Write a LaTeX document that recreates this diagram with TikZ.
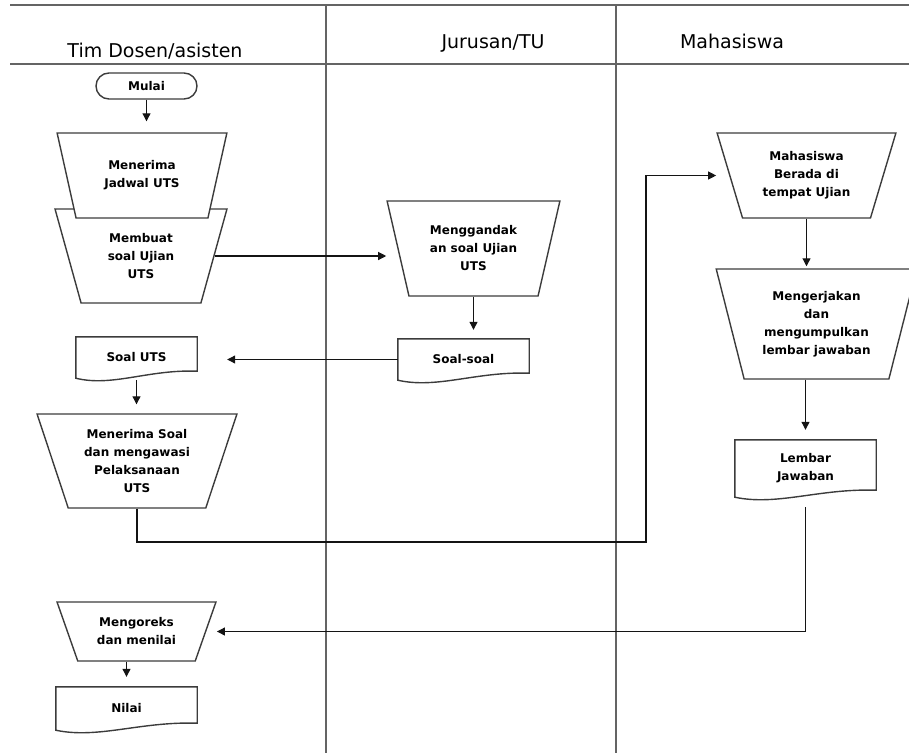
\documentclass[tikz,border=0pt]{standalone}
\usepackage{fontspec}
\setmainfont{DejaVu Sans}
\usepackage{tikz}
\usetikzlibrary{arrows.meta,calc,shapes.geometric}
\definecolor{lanegray}{RGB}{100,100,100}
\definecolor{boxgray}{RGB}{60,60,60}
\definecolor{arrowblack}{RGB}{20,20,20}
% wavy document outline round a named node
\newcommand{\docoutline}[1]{%
  \draw[boxgray, line width=1.4pt] (#1.south west) -- (#1.north west) -- (#1.north east)
    -- ($(#1.south east)+(0,-7)$)
    .. controls ($(#1.south west)!0.6!(#1.south east)+(0,-9)$)
    and ($(#1.south west)!0.3!(#1.south east)+(0,9)$) .. cycle;}

\begin{document}
\begin{tikzpicture}[x=1pt, y=-1pt,
  trap/.style={trapezium, trapezium stretches=true, trapezium left angle=#1,
    trapezium right angle=#1, draw=boxgray, line width=1.4pt, fill=white,
    align=center, font=\bfseries\fontsize{12}{18}\selectfont},
  docbox/.style={rectangle, draw=none, inner sep=0pt, align=center,
    font=\bfseries\fontsize{12}{18}\selectfont},
  title/.style={anchor=base, font=\fontsize{19}{22}\selectfont},
  arr/.style={draw=arrowblack, line width=1.1pt, -{Triangle[length=8pt,width=8pt]}},
  lane/.style={draw=lanegray, line width=1.2pt}]
\useasboundingbox (0,0) rectangle (909,753);
% Swimlanes
\draw[lane, line width=1.8pt] (10,5) -- (909,5);
\draw[lane] (10,64) -- (909,64);
\draw[lane] (326,5) -- (326,753);
\draw[lane] (616,5) -- (616,753);
\node[title] (tdosen) at (155,57) {Tim Dosen/asisten};
\node[title] (tjurusan) at (493,48) {Jurusan/TU};
\node[title] (tmhs) at (732,48) {Mahasiswa};
% Tim Dosen/asisten
\node[draw=boxgray, line width=1.4pt, rounded corners=13pt, minimum width=101pt,
      minimum height=26pt, font=\bfseries\fontsize{12}{18}\selectfont]
      (mulai) at (146.5,86) {Mulai};
\node[trap=107, minimum width=172pt, minimum height=94pt] (membuat) at (141,256)
      {Membuat\\soal Ujian\\UTS};
\node[trap=108, minimum width=170pt, minimum height=85pt] (jadwal) at (142,175.5)
      {Menerima\\Jadwal UTS};
\node[docbox, minimum width=121pt, minimum height=41pt] (soaluts) at (136.5,357.5)
      {Soal UTS};
\docoutline{soaluts}
\node[trap=110, minimum width=200pt, minimum height=94pt] (menerimasoal) at (137,461)
      {Menerima Soal\\dan mengawasi\\Pelaksanaan\\UTS};
\node[trap=114, minimum width=159pt, minimum height=59pt] (mengoreks) at (136.5,631.5)
      {Mengoreks\\dan menilai};
\node[docbox, minimum width=141pt, minimum height=43pt] (nilai) at (126.5,708.5)
      {Nilai};
\docoutline{nilai}
% Jurusan/TU
\node[trap=107, minimum width=173pt, minimum height=95pt] (menggandak) at (473.5,248.5)
      {Menggandak\\an soal Ujian\\UTS};
\node[docbox, minimum width=131pt, minimum height=41pt] (soalsoal) at (463.5,359.5)
      {Soal-soal};
\docoutline{soalsoal}
% Mahasiswa
\node[trap=109, minimum width=179pt, minimum height=85pt] (mahasiswa) at (806.5,175.5)
      {Mahasiswa\\Berada di\\tempat Ujian};
\node[trap=107, minimum width=201pt, minimum height=110pt] (mengerjakan) at (816.5,324)
      {Mengerjakan\\dan\\mengumpulkan\\lembar jawaban};
\node[docbox, minimum width=141pt, minimum height=57pt] (lembar) at (805.5,468.5)
      {Lembar\\Jawaban};
\docoutline{lembar}
% Connectors
\coordinate (turnA) at (646,542);
\draw[arr, shorten >=11pt] (mulai.south) -- (mulai.south |- jadwal.north);
\draw[arr] (membuat.east) -- (membuat.east -| menggandak.top left corner);
\draw[arr, shorten >=9pt] (menggandak.south) -- (menggandak.south |- soalsoal.north);
\draw[arr, shorten >=30pt] (soalsoal.west) -- (soalsoal.west -| soaluts.east);
\draw[arr, shorten <=2pt, shorten >=9pt] (soaluts.south) -- (soaluts.south |- menerimasoal.north);
\draw[arr] (menerimasoal.south) |- (turnA) |- (mahasiswa.top left corner |- mahasiswa.west);
\draw[arr, shorten >=2pt] (mahasiswa.south) -- (mahasiswa.south |- mengerjakan.north);
\draw[arr, shorten >=10pt] (lembar.north |- mengerjakan.south) -- (lembar.north);
\draw[arr, shorten <=10pt] (lembar.south) |- (mengoreks.top right corner |- mengoreks.east);
\draw[arr, shorten >=10pt] (nilai.north |- mengoreks.south) -- (nilai.north);
\end{tikzpicture}
\end{document}
